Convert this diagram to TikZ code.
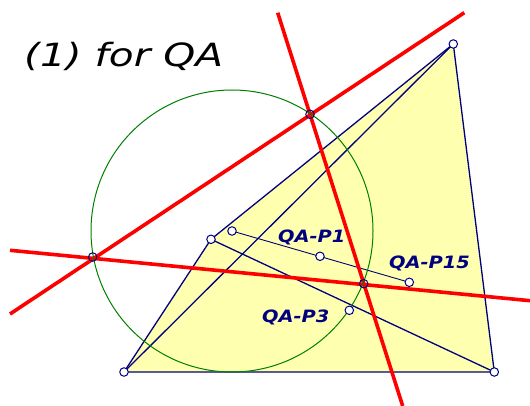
\documentclass[tikz,border=0pt]{standalone}
\usepackage{fontspec}
\usepackage{graphicx}
\setmainfont{DejaVu Sans}
\definecolor{navyc}{RGB}{0,0,128}
\definecolor{fillyel}{RGB}{255,255,176}
\definecolor{greenc}{RGB}{0,128,0}
\tikzset{
  edge/.style={draw=navyc, line width=1.3pt},
  thinedge/.style={draw=navyc, line width=0.9pt},
  redline/.style={draw=red, line width=3.6pt},
  circ/.style={draw=greenc, line width=1pt},
  pt/.style={circle, draw=navyc, line width=1pt, fill=white, inner sep=0pt, minimum size=8.5pt},
  ptopen/.style={circle, draw=navyc, line width=1pt, inner sep=0pt, minimum size=8.5pt},
  lbl/.style={text=navyc, font=\fontsize{17}{20}\selectfont\bfseries\itshape, inner sep=0pt, anchor=base west},
  ttl/.style={text=black, font=\fontsize{32}{38}\selectfont\itshape, inner sep=0pt, anchor=base west}
}
\begin{document}
\begin{tikzpicture}[x=1pt,y=-1pt]
\useasboundingbox (0,0) rectangle (530,406);
\coordinate (A) at (453.3,44);
\coordinate (B) at (124,372);
\coordinate (C) at (494.3,372);
\coordinate (D) at (211,239.3);
\coordinate (O) at (232,231);
\coordinate (P1) at (320,256.3);
\coordinate (P15) at (409.3,282.3);
\coordinate (P3) at (349.3,310.3);
\coordinate (X) at (363.7,283.7);
\coordinate (T) at (310,114.3);
\coordinate (L) at (92.7,257);
\coordinate (r1a) at (10,314);
\coordinate (r1b) at (464.3,12.7);
\coordinate (r2a) at (10,250.3);
\coordinate (r2b) at (530,300.7);
\coordinate (r3a) at (277.7,12.7);
\coordinate (r3b) at (402.7,406);
% filled quadrilateral
\fill[fillyel] (B) -- (D) -- (A) -- (C) -- cycle;
% navy lines
\draw[edge] (B) -- (D) -- (A) -- (C) -- cycle;
\draw[edge] (B) -- (A);
\draw[edge] (D) -- (C);
\draw[thinedge] (O) -- (P15);
% red lines
\draw[redline] (r1a) -- (r1b);
\draw[redline] (r2a) -- (r2b);
\draw[redline] (r3a) -- (r3b);
% circle
\draw[circ] (O) circle[radius=141];
% points
\node[pt] (nA) at (A) {};
\node[pt] (nB) at (B) {};
\node[pt] (nC) at (C) {};
\node[pt] (nD) at (D) {};
\node[pt] (nO) at (O) {};
\node[pt] (nP1) at (P1) {};
\node[pt] (nP15) at (P15) {};
\node[pt] (nP3) at (P3) {};
\node[ptopen] (nX) at (X) {};
\node[ptopen] (nT) at (T) {};
\node[ptopen] (nL) at (L) {};
% labels
\node[lbl] (l1) at (278,242.5) {\scalebox{1.14}[1]{QA-P1}};
\node[lbl] (l15) at (389,268) {\scalebox{1.14}[1]{QA-P15}};
\node[lbl] (l3) at (262,322) {\scalebox{1.14}[1]{QA-P3}};
\node[ttl] (title) at (24,67) {\scalebox{1.27}[1]{(1) for QA}};
\end{tikzpicture}
\end{document}
